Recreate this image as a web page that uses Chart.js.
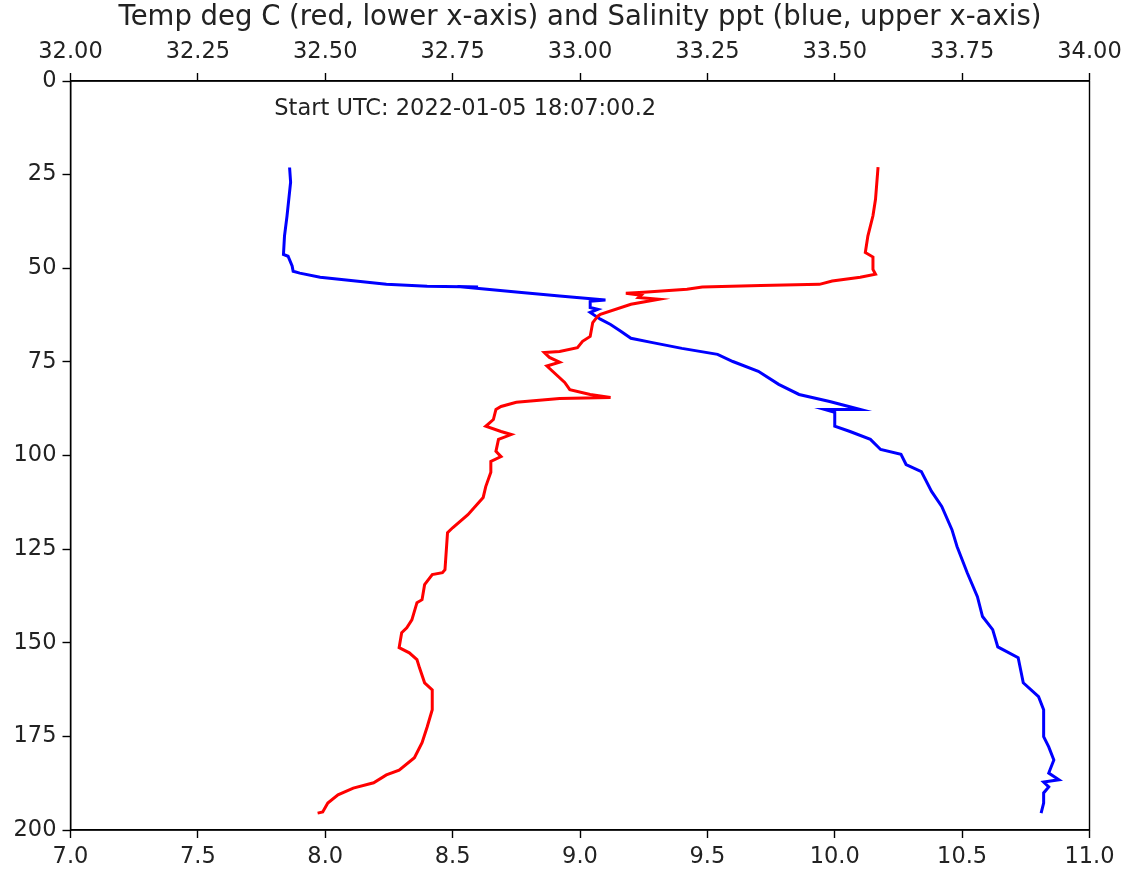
<!DOCTYPE html>
<html>
<head>
<meta charset="utf-8">
<script src="https://cdn.jsdelivr.net/npm/chart.js@4.4.1/dist/chart.umd.min.js"></script>
<style>
html,body{margin:0;padding:0;background:#fff;}
#wrap{width:1122px;height:870px;}
</style>
</head>
<body>
<div id="wrap"><canvas id="c" width="1122" height="870"></canvas></div>
<script>
const titleText = "Temp deg C (red, lower x-axis) and Salinity ppt (blue, upper x-axis)";
const annotationText = "Start UTC: 2022-01-05 18:07:00.2";

const depthTicks = [0, 25, 50, 75, 100, 125, 150, 175, 200];
const tempTicks = [7.0, 7.5, 8.0, 8.5, 9.0, 9.5, 10.0, 10.5, 11.0];
const salTicks = [32.00, 32.25, 32.50, 32.75, 33.00, 33.25, 33.50, 33.75, 34.00];

// Temperature profile (deg C) vs depth
const tempDepth = [23.0, 31.6, 36.0, 41.4, 45.8, 47.0, 50.3, 51.6, 52.4, 53.4, 54.3, 54.6, 55.0, 55.6, 56.4, 56.7, 57.2, 57.8, 58.3, 59.6, 62.3,
  62.8, 64.5, 68.2, 69.5, 71.2, 72.2, 72.5, 73.8, 75.1, 76.1, 80.5, 82.4, 83.7, 84.5, 84.8, 85.8, 86.9, 87.7, 90.4, 92.2, 93.6, 94.4, 95.7,
  98.9, 100.3, 101.6, 104.5, 108.3, 111.2, 115.8, 119.3, 120.6, 130.5, 131.3, 131.8, 134.5, 138.5, 139.3, 143.9, 146.0, 147.3, 151.3,
  152.7, 154.5, 156.7, 160.7, 162.6, 166.0, 167.9, 172.5, 176.7, 180.7, 184.0, 185.3, 187.4, 188.8, 190.6, 192.8, 195.2, 195.5];
const tempValues = [10.17, 10.16, 10.15, 10.13, 10.12, 10.15, 10.15, 10.16, 10.10, 9.99, 9.94, 9.71, 9.48, 9.42, 9.25, 9.18, 9.24, 9.23, 9.31, 9.20, 9.08,
  9.07, 9.05, 9.04, 9.01, 8.99, 8.92, 8.86, 8.88, 8.92, 8.87, 8.94, 8.96, 9.04, 9.12, 8.92, 8.75, 8.69, 8.67, 8.66, 8.63, 8.69, 8.73, 8.68,
  8.67, 8.69, 8.65, 8.65, 8.63, 8.62, 8.56, 8.50, 8.48, 8.47, 8.46, 8.42, 8.39, 8.38, 8.36, 8.34, 8.32, 8.30, 8.29,
  8.33, 8.36, 8.37, 8.39, 8.42, 8.42, 8.42, 8.40, 8.38, 8.35, 8.29, 8.24, 8.19, 8.11, 8.05, 8.01, 7.99, 7.97];

// Salinity profile (ppt) vs depth
const salDepth = [23.1, 27.0, 36.0, 41.4, 46.3, 46.8, 49.4, 50.8, 51.3, 52.4, 54.3, 54.8, 55.0, 54.9, 56.4, 57.4, 58.5, 58.8, 60.5, 61.0, 61.8, 63.6,
  65.0, 66.8, 68.7, 69.8, 71.4, 73.0, 74.9, 77.5, 81.0, 83.7, 85.6, 87.7, 87.7, 88.5, 92.2, 93.6, 95.7, 98.4, 99.7, 102.4, 104.3, 109.6,
  113.6, 119.8, 124.3, 131.3, 137.7, 143.0, 146.5, 151.1, 154.0, 160.7, 164.4, 167.9, 175.1, 177.8, 181.3, 184.8, 186.6, 187.2, 188.5,
  190.1, 192.8, 195.5];
const salValues = [32.430, 32.432, 32.425, 32.420, 32.418, 32.427, 32.435, 32.437, 32.450, 32.490, 32.620, 32.700, 32.800, 32.760, 32.880, 32.960, 33.050, 33.020, 33.020, 33.035, 33.020, 33.040,
  33.060, 33.080, 33.100, 33.140, 33.200, 33.270, 33.300, 33.350, 33.390, 33.430, 33.490, 33.550, 33.480, 33.500, 33.500, 33.530, 33.570, 33.590, 33.630, 33.640, 33.670, 33.690,
  33.710, 33.730, 33.740, 33.760, 33.780, 33.790, 33.810, 33.820, 33.860, 33.870, 33.900, 33.910, 33.910, 33.920, 33.930, 33.920, 33.940, 33.910, 33.920,
  33.910, 33.910, 33.905];

const FONT = "'DejaVu Sans', sans-serif";

const framePlugin = {
  id: 'frame',
  afterDraw(chart) {
    const {ctx, chartArea: a, scales} = chart;
    ctx.save();
    ctx.strokeStyle = '#000';
    ctx.lineWidth = 1.4;
    ctx.strokeRect(a.left, a.top, a.right - a.left, a.bottom - a.top);
    ctx.fillStyle = '#222';
    // title centred over the plot area
    ctx.font = "27.5px " + FONT;
    ctx.textAlign = 'center';
    ctx.textBaseline = 'middle';
    ctx.fillText(titleText, (a.left + a.right) / 2, 18);
    // start-time annotation
    ctx.font = "22.5px " + FONT;
    ctx.textAlign = 'left';
    ctx.fillText(annotationText, scales.x.getPixelForValue(7.8), scales.y.getPixelForValue(7.4));
    ctx.restore();
  }
};

const tickFont = {family: FONT, size: 22.5};
const axisCommon = {
  grid: {display: true, drawOnChartArea: false, drawTicks: true, tickLength: 8, tickColor: '#000', tickWidth: 1.4},
  border: {display: true, color: '#000', width: 1.4}
};

new Chart(document.getElementById('c'), {
  type: 'scatter',
  data: {
    datasets: [
      {
        label: 'Temp',
        data: tempDepth.map((d, i) => ({x: tempValues[i], y: d})),
        xAxisID: 'x', yAxisID: 'y',
        showLine: true, borderColor: '#ff0000', backgroundColor: '#ff0000',
        borderWidth: 3, pointRadius: 0, tension: 0
      },
      {
        label: 'Salinity',
        data: salDepth.map((d, i) => ({x: salValues[i], y: d})),
        xAxisID: 'x2', yAxisID: 'y',
        showLine: true, borderColor: '#0000ff', backgroundColor: '#0000ff',
        borderWidth: 3, pointRadius: 0, tension: 0
      }
    ]
  },
  options: {
    responsive: false,
    animation: false,
    events: [],
    layout: {padding: {left: 0, right: 32.5, top: 35, bottom: 0}},
    plugins: {
      legend: {display: false},
      tooltip: {enabled: false},
      title: {display: false}
    },
    scales: {
      x: Object.assign({}, axisCommon, {
        type: 'linear', position: 'bottom', min: 7, max: 11,
        afterBuildTicks(s) { s.ticks = tempTicks.map(v => ({value: v})); },
        afterFit(s) { s.height = 40; s.paddingLeft = 0; s.paddingRight = 0; },
        ticks: {color: '#222', font: tickFont, padding: 6, maxRotation: 0, callback: v => Number(v).toFixed(1)}
      }),
      x2: Object.assign({}, axisCommon, {
        type: 'linear', position: 'top', min: 32, max: 34,
        afterBuildTicks(s) { s.ticks = salTicks.map(v => ({value: v})); },
        afterFit(s) { s.height = 46; s.paddingLeft = 0; s.paddingRight = 0; },
        ticks: {color: '#222', font: tickFont, padding: 7, maxRotation: 0, callback: v => Number(v).toFixed(2)}
      }),
      y: Object.assign({}, axisCommon, {
        type: 'linear', position: 'left', min: 0, max: 200, reverse: true,
        afterBuildTicks(s) { s.ticks = depthTicks.map(v => ({value: v})); },
        afterFit(s) { s.width = 70.5; s.paddingTop = 0; s.paddingBottom = 0; },
        ticks: {color: '#222', font: tickFont, padding: 6, callback: v => String(v)}
      })
    }
  },
  plugins: [framePlugin]
});
</script>
</body>
</html>
